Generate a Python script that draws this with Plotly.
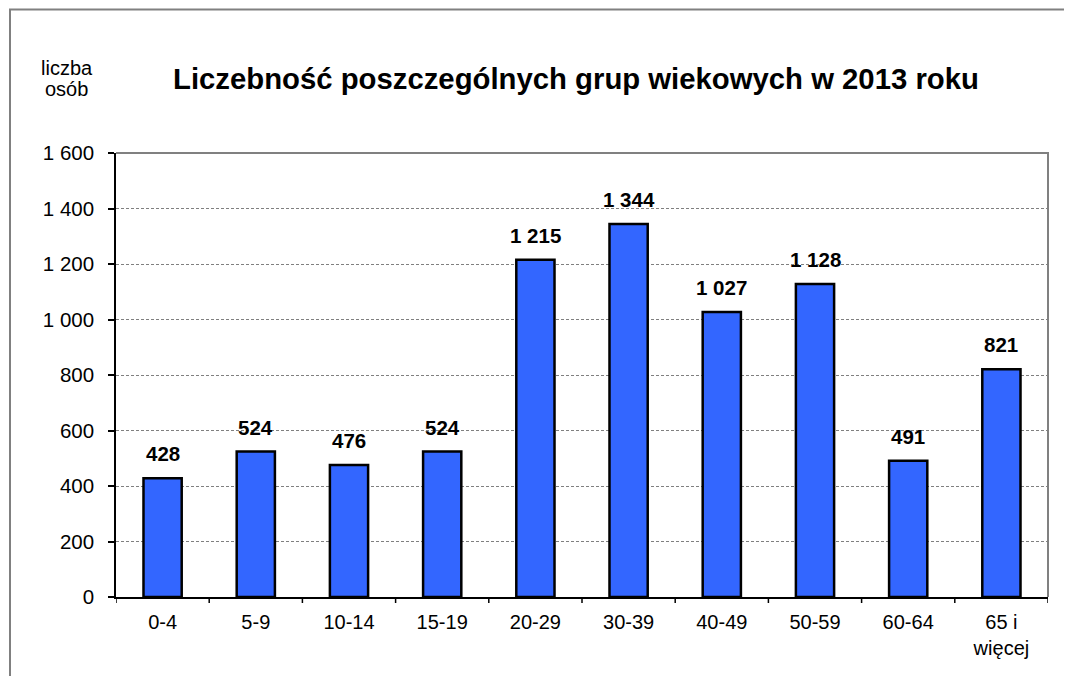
import plotly.graph_objects as go

categories = ["0-4", "5-9", "10-14", "15-19", "20-29", "30-39", "40-49", "50-59", "60-64", "65 i<br>więcej"]
values = [428, 524, 476, 524, 1215, 1344, 1027, 1128, 491, 821]
y_ticks = [0, 200, 400, 600, 800, 1000, 1200, 1400, 1600]

# page is shown with an 8px body margin, so figure coords = page coords - 8
OFF = 8
W, H = 1056, 668
L, R, T, B = 108, 16, 145, 79
pw, ph = W - L - R, H - T - B

def px(x):  # page x -> paper
    return (x - OFF - L) / pw

def py(y):  # page y -> paper
    return (H - B - (y - OFF)) / ph

FONT = "Liberation Sans, Arial, sans-serif"

fig = go.Figure()
fig.add_trace(go.Bar(
    x=list(range(len(categories))), y=values, width=0.41,
    marker=dict(color="#3366FF", line=dict(color="black", width=2.5)),
    hoverinfo="skip",
))

for i, v in enumerate(values):
    fig.add_annotation(x=i, y=v, text="<b>" + f"{v:,d}".replace(",", " ") + "</b>",
                       showarrow=False, yanchor="bottom", yshift=11,
                       font=dict(family=FONT, size=20.5, color="black"))

fig.add_annotation(xref="paper", yref="paper", x=px(575.5), y=py(78),
                   text="<b>Liczebność poszczególnych grup wiekowych w 2013 roku</b>",
                   showarrow=False, xanchor="center", yanchor="middle",
                   font=dict(family=FONT, size=29.3, color="black"))
fig.add_annotation(xref="paper", yref="paper", x=px(66.5), y=py(67.5),
                   text="liczba", showarrow=False, xanchor="center", yanchor="middle",
                   font=dict(family=FONT, size=20, color="black"))
fig.add_annotation(xref="paper", yref="paper", x=px(66.5), y=py(89.5),
                   text="osób", showarrow=False, xanchor="center", yanchor="middle",
                   font=dict(family=FONT, size=20, color="black"))

# outer chart border (cut off at right and bottom)
fig.add_shape(type="path", xref="paper", yref="paper",
              path=f"M {px(10)} {py(700)} L {px(10)} {py(9.5)} L {px(1090)} {py(9.5)}",
              line=dict(color="#808080", width=2))
# plot area top and right borders
fig.add_shape(type="path", xref="paper", yref="paper",
              path="M 0 1 L 1 1 L 1 0",
              line=dict(color="#808080", width=2))

fig.update_layout(
    width=W, height=H,
    margin=dict(l=L, r=R, t=T, b=B),
    paper_bgcolor="white", plot_bgcolor="white",
    showlegend=False,
    separators=", ",
    font=dict(family=FONT, size=20, color="black"),
)
fig.update_xaxes(
    type="linear", range=[-0.5, len(categories) - 0.5],
    tickmode="array", tickvals=list(range(len(categories))), ticktext=categories,
    showgrid=False, zeroline=False,
    showline=True, linecolor="black", linewidth=1.5,
    ticks="", ticklabelstandoff=6,
    tickfont=dict(family=FONT, size=20, color="black"),
)
# boundary tick marks on the x axis
for i in range(len(categories) + 1):
    fig.add_shape(type="line", xref="x", yref="paper",
                  x0=i - 0.5, x1=i - 0.5, y0=0, y1=-6 / ph,
                  line=dict(color="black", width=1.5))
fig.update_yaxes(
    range=[0, 1600], tickmode="array", tickvals=y_ticks,
    tickformat=",d",
    showgrid=True, gridcolor="#808080", gridwidth=1, griddash="3px,2px",
    zeroline=False,
    showline=True, linecolor="black", linewidth=1.5,
    ticks="outside", ticklen=6, tickcolor="black", tickwidth=1.5,
    ticklabelstandoff=10,
    tickfont=dict(family=FONT, size=20.5, color="black"),
)

fig.write_html("out.html")
